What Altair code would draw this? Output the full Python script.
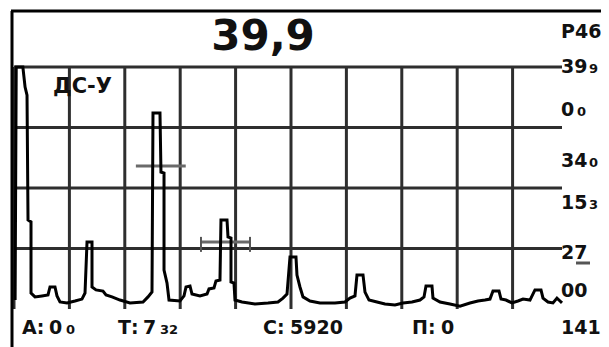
import altair as alt
import pandas as pd

# A-scan trace: depth in grid units (10 per division), amplitude in % of screen height
depth = [0.2, 0.4, 1.6, 2.0, 2.35, 2.53, 3.07, 3.07, 3.79, 5.05,
         6.14, 6.50, 7.40, 7.76, 8.30, 9.57, 11.01, 12.27, 12.82, 13.18,
         14.08, 14.08, 14.80, 16.06, 16.61, 17.69, 19.13, 20.94, 23.29, 24.19,
         24.91, 25.09, 26.35, 26.53, 27.08, 27.08, 27.62, 27.98, 29.96, 30.69,
         31.05, 31.77, 32.13, 33.57, 34.84, 35.20, 36.10, 36.46, 37.18, 37.36,
         38.45, 38.63, 39.17, 39.17, 39.71, 39.89, 41.16, 43.50, 45.85, 47.65,
         48.56, 49.28, 49.82, 50.90, 51.08, 51.62, 52.17, 53.43, 55.23, 57.94,
         59.75, 60.65, 61.55, 61.91, 63.00, 63.36, 64.08, 65.52, 66.97, 68.77,
         70.22, 71.84, 73.29, 74.01, 74.37, 75.45, 75.63, 76.90, 78.70, 80.51,
         82.31, 83.75, 85.02, 85.92, 86.46, 87.55, 87.91, 88.81, 89.89, 90.97,
         91.88, 93.14, 94.04, 95.13, 95.49, 96.39, 97.29, 98.01, 98.56, 98.92]
amp = [3.7, 100, 100, 91.7, 88.4, 36.8, 36.0, 6.6, 5.0, 5.4,
       5.8, 9.1, 9.1, 5.4, 2.9, 2.5, 3.3, 4.1, 6.6, 27.7,
       27.7, 9.1, 7.9, 7.4, 5.8, 5.0, 3.7, 2.5, 2.9, 5.0,
       7.0, 81.0, 81.0, 56.6, 56.2, 16.1, 10.7, 3.7, 3.3, 5.4,
       9.1, 9.5, 6.2, 5.4, 6.2, 8.3, 8.7, 11.6, 12.0, 36.8,
       36.8, 29.8, 29.3, 11.2, 10.7, 3.7, 2.9, 2.1, 2.5, 2.9,
       4.5, 6.2, 21.5, 21.5, 14.0, 9.1, 5.0, 3.3, 2.5, 2.5,
       2.9, 4.5, 5.4, 14.0, 14.0, 7.0, 3.7, 2.9, 2.1, 1.7,
       2.5, 2.9, 3.7, 5.0, 9.5, 9.5, 4.5, 2.9, 2.1, 1.2,
       2.5, 3.3, 3.7, 4.1, 7.4, 7.4, 4.1, 3.7, 2.5, 3.3,
       4.1, 3.7, 7.9, 7.9, 4.5, 2.9, 2.5, 4.5, 3.3, 2.5]

grid_x = [0, 10, 20, 30, 40, 50, 60, 70, 80, 90]
grid_y = [25, 50, 75, 100]

# gates: start, end, level
gate_start = [22.0, 33.75]
gate_end = [31.0, 42.6]
gate_level = [59.1, 27.7]
gate_tick_lo = 23.6
gate_tick_hi = 29.8

title_text = "39,9"
mode_text = "ДС-У"
right_big = ["Р46", "39", "0", "34", "15", "27", "00", "141"]
right_small = ["9", "0", "0", "3"]
bottom_big = ["А:", "0", "Т:", "7", "С:", "5920", "П:", "0"]
bottom_small = ["0", "32"]

W, H = 548, 242
FONT = "DejaVu Sans"
INK = "#111111"
GRID = "#2e2e2e"

xs = alt.Scale(domain=[0, 98.92], nice=False, zero=False)
ys = alt.Scale(domain=[0, 100], nice=False, zero=False)

trace_df = pd.DataFrame({"depth": depth, "amp": amp, "i": list(range(len(depth)))})

vgrid = alt.Chart(pd.DataFrame({"x": grid_x})).mark_rule(color=GRID, strokeWidth=3).encode(
    x=alt.X("x:Q", scale=xs, axis=None),
    y=alt.value(0), y2=alt.value(H))
hgrid = alt.Chart(pd.DataFrame({"y": grid_y})).mark_rule(color=GRID, strokeWidth=3).encode(
    y=alt.Y("y:Q", scale=ys, axis=None),
    x=alt.value(0), x2=alt.value(W))

gates_df = pd.DataFrame({"s": gate_start, "e": gate_end, "lvl": gate_level})
gates = alt.Chart(gates_df).mark_rule(color="#6a6a6a", strokeWidth=3).encode(
    x=alt.X("s:Q", scale=xs, axis=None), x2="e:Q", y=alt.Y("lvl:Q", scale=ys, axis=None))
ticks_df = pd.DataFrame({"x": [gate_start[1], gate_end[1]],
                         "lo": [gate_tick_lo, gate_tick_lo], "hi": [gate_tick_hi, gate_tick_hi]})
gate_ticks = alt.Chart(ticks_df).mark_rule(color="#555555", strokeWidth=2).encode(
    x=alt.X("x:Q", scale=xs, axis=None), y=alt.Y("lo:Q", scale=ys, axis=None), y2="hi:Q")

trace = alt.Chart(trace_df).mark_line(color="#000000", strokeWidth=3, strokeJoin="miter").encode(
    x=alt.X("depth:Q", scale=xs, axis=None),
    y=alt.Y("amp:Q", scale=ys, axis=None),
    order="i:Q")

one = pd.DataFrame({"k": [0]})
# frame of the screen
frame_top = alt.Chart(one).mark_rule(color="#000000", strokeWidth=3).encode(
    x=alt.value(-3), x2=alt.value(W + 45), y=alt.value(-56))
frame_left = alt.Chart(one).mark_rule(color="#000000", strokeWidth=3).encode(
    x=alt.value(-2), y=alt.value(-56), y2=alt.value(H + 40))
underline = alt.Chart(one).mark_rule(color="#555555", strokeWidth=3).encode(
    x=alt.value(562), x2=alt.value(576), y=alt.value(196))


def texts(items, xs_px, ys_px, size, align="left"):
    out = []
    for t, px, py in zip(items, xs_px, ys_px):
        out.append(alt.Chart(one).mark_text(
            font=FONT, fontWeight="bold", fontSize=size, color=INK,
            align=align, baseline="alphabetic", text=t).encode(
            x=alt.value(px), y=alt.value(py)))
    return out


layers = [hgrid, vgrid, gates, gate_ticks, trace, frame_top, frame_left, underline]
layers += texts([title_text], [249], [-17], 42, "center")
layers += texts([mode_text], [39], [26], 21)
layers += texts(right_big, [547] * 8, [-29, 6, 49, 100, 142, 192, 230, 267], 19)
layers += texts(right_small, [575, 563, 575, 575], [6, 49, 100, 142], 13)
layers += texts(bottom_big, [8, 35, 104, 129, 249, 276, 398, 427], [267] * 8, 19)
layers += texts(bottom_small, [52, 146], [267, 267], 13)

chart = alt.layer(*layers).properties(
    width=W, height=H,
    padding={"left": 6, "top": 59, "right": 39, "bottom": 38},
    autosize=alt.AutoSizeParams(type="none"),
    background="white",
).configure_view(stroke=None)

chart.save("out.html", embed_options={"renderer": "svg", "actions": False})
